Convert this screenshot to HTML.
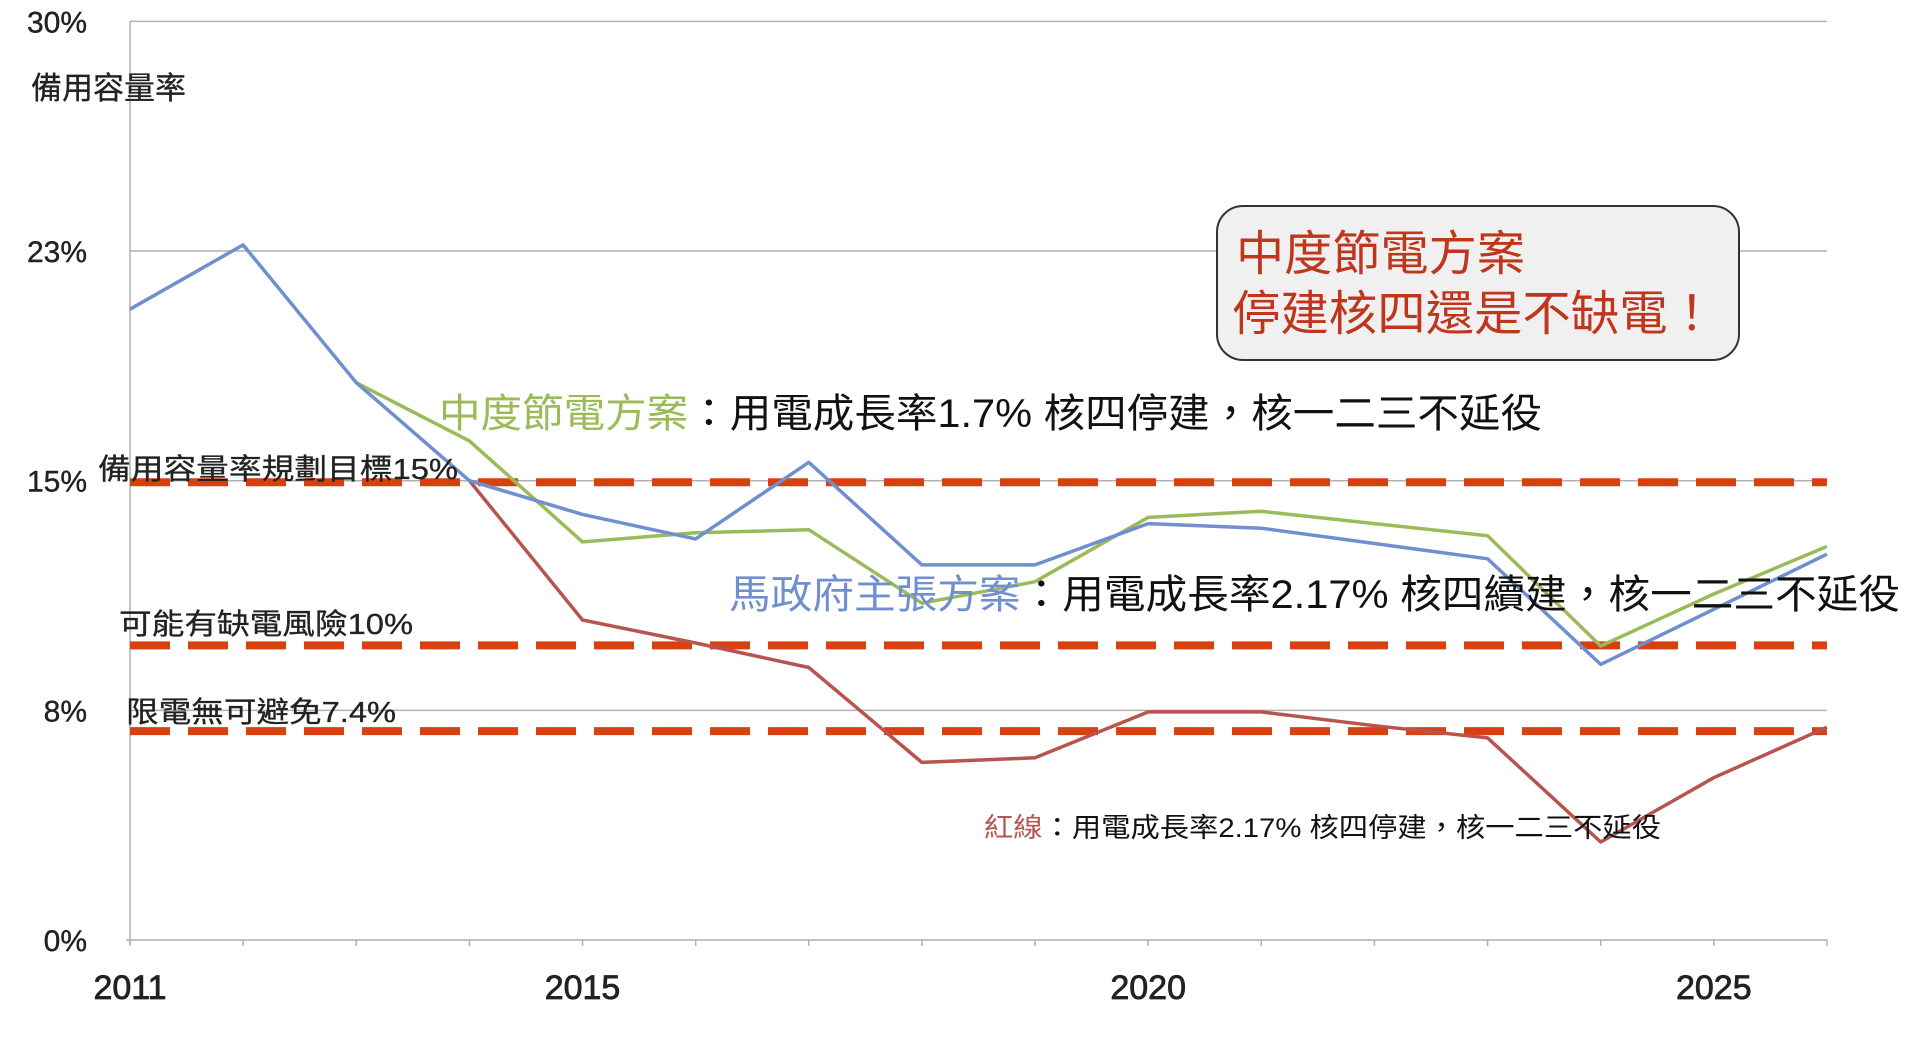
<!DOCTYPE html>
<html><head><meta charset="utf-8">
<style>
html,body{margin:0;padding:0;background:#fff;}
svg{display:block;font-family:"Liberation Sans","Noto Sans CJK TC",sans-serif;}
</style></head>
<body>
<svg id="chart" width="1920" height="1047" viewBox="0 0 1920 1047" xmlns="http://www.w3.org/2000/svg">
<g id="grid"></g>
<g id="dashes"></g>
<g id="series"></g>
<g id="labels"></g>
</svg>
<script>
const years = [2011,2012,2013,2014,2015,2016,2017,2018,2019,2020,2021,2022,2023,2024,2025,2026];
const blueValues = [20.6,22.7,18.2,15.0,13.9,13.1,15.6,12.25,12.25,13.6,13.45,12.95,12.45,9.0,10.8,12.6];
const greenValues = [null,null,18.2,16.3,13.0,13.3,13.4,11.0,11.7,13.8,14.0,13.6,13.2,9.6,11.3,12.85];
const redValues = [null,null,null,15.0,10.45,9.7,8.9,5.8,5.95,7.45,7.45,7.0,6.6,3.2,5.3,6.95];
const yTicks = [0,7.5,15,22.5,30];
const yTickLabels = ['0%','8%','15%','23%','30%'];
const xTickLabels = [2011,2015,2020,2025];
const refValues = [14.95,9.62,6.82];
const refLabels = ['備用容量率規劃目標15%','可能有缺電風險10%','限電無可避免7.4%'];

const NS='http://www.w3.org/2000/svg';
const X0=130, DX=113.13, Y0=940, YPER=30.62;
function xs(yr){return X0+(yr-2011)*DX;}
function ys(v){return Y0-v*YPER;}
function mk(tag,attrs,parent,text){const e=document.createElementNS(NS,tag);for(const k in attrs)e.setAttribute(k,attrs[k]);if(text!==undefined)e.textContent=text;parent.appendChild(e);return e;}

const grid=document.getElementById('grid');
yTicks.forEach((t,i)=>{
  if(t>0){const l=mk('line',{x1:X0,x2:xs(2026),y1:ys(t),y2:ys(t),stroke:'#b0b0b0','stroke-width':1.5},grid);
  
  }
  const tx=mk('text',{x:87,y:ys(t)+11,'font-size':30,'text-anchor':'end',fill:'#222',stroke:'#222','stroke-width':0.4},grid,yTickLabels[i]);
  
  
});
const ax=mk('line',{x1:X0,x2:X0,y1:ys(30),y2:Y0+4,stroke:'#b0b0b0','stroke-width':1.5},grid);


const bx=mk('line',{x1:X0-4,x2:xs(2026),y1:Y0,y2:Y0,stroke:'#b0b0b0','stroke-width':1.5},grid);


years.forEach(yr=>{
  const t=mk('line',{x1:xs(yr),x2:xs(yr),y1:Y0,y2:Y0+6,stroke:'#b0b0b0','stroke-width':1.5},grid);
  
  
});
xTickLabels.forEach(yr=>{
  const t=mk('text',{x:xs(yr),y:999,'font-size':34,'text-anchor':'middle',fill:'#222',stroke:'#222','stroke-width':0.8},grid,String(yr));
  
  
});
const yt=mk('text',{x:31,y:99,'font-size':31,fill:'#222',stroke:'#222','stroke-width':0.3},grid,'備用容量率');



const dashes=document.getElementById('dashes');
refValues.forEach(v=>{
  const d=mk('line',{x1:X0,x2:xs(2026),y1:ys(v),y2:ys(v),stroke:'#d9400f','stroke-width':8,'stroke-dasharray':'40 18'},dashes);
  
  
});

const series=document.getElementById('series');
function drawSeries(vals,color,name){
  const pts=[];vals.forEach((v,i)=>{if(v!==null)pts.push(xs(years[i]).toFixed(1)+','+ys(v).toFixed(1));});
  const p=mk('polyline',{points:pts.join(' '),fill:'none',stroke:color,'stroke-width':3.5,'stroke-linejoin':'round'},series);
  
  
}
drawSeries(redValues,'#b85450','red-line-series');
drawSeries(greenValues,'#9bbb59','green-line-series');
drawSeries(blueValues,'#6f8fcf','blue-line-series');

const labels=document.getElementById('labels');
const refLabelX=[98,119,126], refLabelY=[479,634,722], refLabelW=[360,294,270];
refLabels.forEach((s,i)=>{
  const t=mk('text',{x:refLabelX[i],y:refLabelY[i],'font-size':29,fill:'#222',stroke:'#222','stroke-width':0.3,textLength:refLabelW[i],lengthAdjust:'spacingAndGlyphs'},labels,s);
  
  
});

const box=mk('rect',{x:1217,y:206,width:522,height:154,rx:26,fill:'#f0f0f0',stroke:'#333','stroke-width':2},labels);


const c1=mk('text',{x:1236,y:270,'font-size':48,fill:'#c0361c',textLength:289,lengthAdjust:'spacingAndGlyphs'},labels,'中度節電方案');


const c2=mk('text',{x:1232,y:330,'font-size':48,fill:'#c0361c',textLength:484,lengthAdjust:'spacingAndGlyphs'},labels,'停建核四還是不缺電！');



function annot(x,y,size,w,prefix,pcolor,rest,name){
  const t=mk('text',{x:x,y:y,'font-size':size,fill:'#111',textLength:w,lengthAdjust:'spacingAndGlyphs'},labels);
  
  
  mk('tspan',{fill:pcolor},t,prefix);
  mk('tspan',{},t,rest);
}
annot(439,427,40,1103,'中度節電方案','#9bbb59','：用電成長率1.7%  核四停建，核一二三不延役','green-series-annotation');
annot(729,608,40,1171,'馬政府主張方案','#6f8fcf','：用電成長率2.17%  核四續建，核一二三不延役','blue-series-annotation');
annot(984,837,27,677,'紅線','#b85450','：用電成長率2.17%  核四停建，核一二三不延役','red-series-annotation');
</script>
</body></html>
